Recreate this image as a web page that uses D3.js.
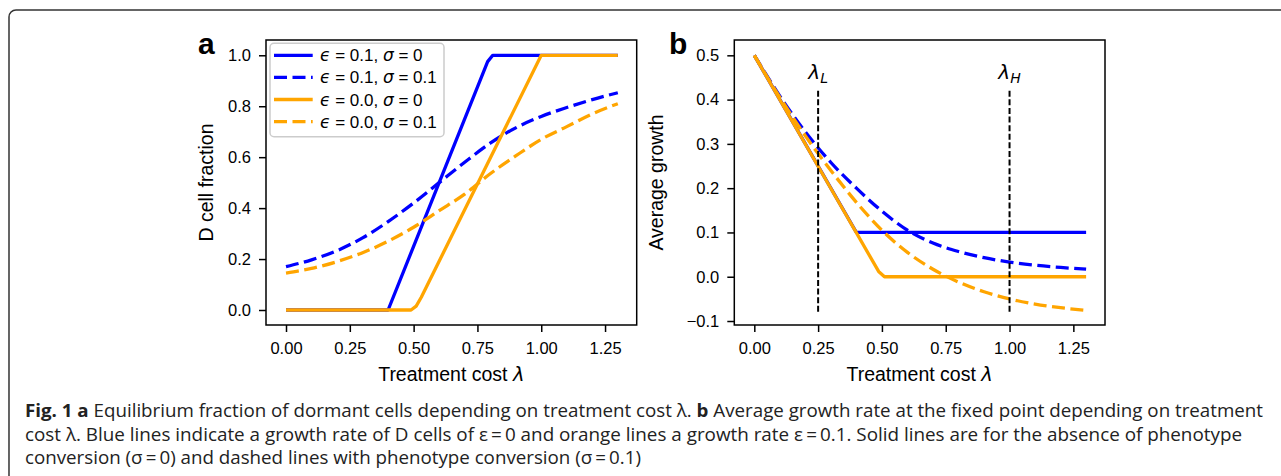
<!DOCTYPE html>
<html>
<head>
<meta charset="utf-8">
<script src="https://cdn.jsdelivr.net/npm/d3@7"></script>
<style>
  body { margin: 0; background: #fff; }
</style>
</head>
<body>
<script>
const WIDTH = 1281
const HEIGHT = 476

const BLUE = '#0000ff'
const ORANGE = '#ffa500'

// x values shared by the smooth (dashed) curves
const LAMBDAS = [0, 0.1, 0.2, 0.3, 0.4, 0.5, 0.6, 0.7, 0.8, 0.9, 1.0, 1.1, 1.2, 1.3]

// panel a : D cell fraction
const A_BLUE_SOLID_X = [0, 0.4, 0.79, 0.81, 1.3]
const A_BLUE_SOLID_Y = [0, 0, 0.975, 1, 1]
const A_BLUE_DASHED = [0.17, 0.197, 0.233, 0.283, 0.347, 0.42, 0.5, 0.58, 0.655, 0.715, 0.76, 0.795, 0.826, 0.853]
const A_ORANGE_SOLID_X = [0, 0.49, 0.51, 0.53, 1.0, 1.3]
const A_ORANGE_SOLID_Y = [0, 0, 0.015, 0.05, 1, 1]
const A_ORANGE_DASHED = [0.145, 0.163, 0.19, 0.225, 0.27, 0.325, 0.39, 0.455, 0.535, 0.605, 0.67, 0.72, 0.77, 0.81]

// panel b : average growth
const B_BLUE_SOLID_X = [0, 0.4, 1.3]
const B_BLUE_SOLID_Y = [0.5, 0.1, 0.1]
const B_BLUE_DASHED = [0.5, 0.408, 0.327, 0.258, 0.2, 0.148, 0.105, 0.076, 0.057, 0.043, 0.033, 0.026, 0.021, 0.017]
const B_ORANGE_SOLID_X = [0, 0.487, 0.51, 1.3]
const B_ORANGE_SOLID_Y = [0.5, 0.012, 0, 0]
const B_ORANGE_DASHED = [0.5, 0.405, 0.318, 0.24, 0.168, 0.105, 0.055, 0.017, -0.012, -0.034, -0.05, -0.062, -0.07, -0.076]

const X_TICKS = [0, 0.25, 0.5, 0.75, 1.0, 1.25]
const A_Y_TICKS = [0, 0.2, 0.4, 0.6, 0.8, 1.0]
const B_Y_TICKS = [-0.1, 0, 0.1, 0.2, 0.3, 0.4, 0.5]

const VLINES = [{ x: 0.25, sub: 'L' }, { x: 1.0, sub: 'H' }]

const LEGEND = [
  { eps: '0.1', sig: '0', color: BLUE, dash: null },
  { eps: '0.1', sig: '0.1', color: BLUE, dash: '13,5.5' },
  { eps: '0.0', sig: '0', color: ORANGE, dash: null },
  { eps: '0.0', sig: '0.1', color: ORANGE, dash: '13,5.5' },
]

const CAPTION = [
  [['b', 'Fig. 1 a'], ['n', ' Equilibrium fraction of dormant cells depending on treatment cost λ. '], ['b', 'b'], ['n', ' Average growth rate at the fixed point depending on treatment']],
  [['n', 'cost λ. Blue lines indicate a growth rate of D cells of ε\u2009=\u20090 and orange lines a growth rate ε\u2009=\u20090.1. Solid lines are for the absence of phenotype']],
  [['n', 'conversion (σ\u2009=\u20090) and dashed lines with phenotype conversion (σ\u2009=\u20090.1)']],
]
const CAPTION_WIDTHS = [1238, 1217, 616]

const FONT = '"Liberation Sans", Arial, Helvetica, sans-serif'
const MATH = '"DejaVu Sans", sans-serif'
const LW = 3.3

const svg = d3.select('body')
  .append('svg')
  .attr('width', WIDTH)
  .attr('height', HEIGHT)
  .style('font-family', FONT)

// outer frame
svg.append('rect')
  .attr('x', 9)
  .attr('y', 10)
  .attr('width', 1320)
  .attr('height', 520)
  .attr('rx', 7)
  .attr('fill', 'none')
  .attr('stroke', '#333')
  .attr('stroke-width', 1.5)

const xA = d3.scaleLinear().domain([-0.0784, 1.374]).range([266, 636.7])
const yA = d3.scaleLinear().domain([-0.0589, 1.06]).range([325, 40])
const xB = d3.scaleLinear().domain([-0.0784, 1.374]).range([734.3, 1105])
const yB = d3.scaleLinear().domain([-0.109, 0.5346]).range([325, 40])

const pairs = (xs, ys) => xs.map((v, i) => [v, ys[i]])

function drawPanel(x, y, yTicks, yLabel, labelX, letter, letterX, series) {
  const g = svg.append('g')

  const line = d3.line().x(d => x(d[0])).y(d => y(d[1]))
  const smooth = d3.line().x(d => x(d[0])).y(d => y(d[1])).curve(d3.curveMonotoneX)

  series.forEach(s => {
    g.append('path')
      .attr('d', s.dash ? smooth(s.pts) : line(s.pts))
      .attr('fill', 'none')
      .attr('stroke', s.color)
      .attr('stroke-width', LW)
      .attr('stroke-dasharray', s.dash)
      .attr('stroke-linejoin', 'round')
  })

  // axes
  const xAxis = g.append('g')
    .attr('transform', `translate(0, ${y.range()[0]})`)
    .call(d3.axisBottom(x).tickValues(X_TICKS).tickFormat(d3.format('.2f')).tickSize(7).tickPadding(10))
  const yAxis = g.append('g')
    .attr('transform', `translate(${x.range()[0]}, 0)`)
    .call(d3.axisLeft(y).tickValues(yTicks).tickFormat(d3.format('.1f')).tickSize(7).tickPadding(8))

  ;[xAxis, yAxis].forEach(ax => {
    ax.select('.domain').remove()
    ax.selectAll('line').attr('stroke', '#000').attr('stroke-width', 1.5)
    ax.selectAll('text').attr('fill', '#000').style('font-size', '16.5px').style('font-family', FONT)
  })

  g.append('rect')
    .attr('x', x.range()[0])
    .attr('y', y.range()[1])
    .attr('width', x.range()[1] - x.range()[0])
    .attr('height', y.range()[0] - y.range()[1])
    .attr('fill', 'none')
    .attr('stroke', '#000')
    .attr('stroke-width', 1.5)

  // x label
  const xl = g.append('text')
    .attr('x', (x.range()[0] + x.range()[1]) / 2)
    .attr('y', 380.7)
    .attr('text-anchor', 'middle')
    .style('font-size', '19.5px')
  xl.append('tspan').text('Treatment cost ')
  xl.append('tspan').style('font-family', MATH).style('font-style', 'italic').text('λ')

  // y label
  g.append('text')
    .attr('transform', `translate(${labelX}, ${(y.range()[0] + y.range()[1]) / 2}) rotate(-90)`)
    .attr('text-anchor', 'middle')
    .style('font-size', '19.5px')
    .text(yLabel)

  // panel letter
  g.append('text')
    .attr('x', letterX)
    .attr('y', 54)
    .style('font-size', '30px')
    .style('font-weight', 'bold')
    .text(letter)

  return g
}

drawPanel(xA, yA, A_Y_TICKS, 'D cell fraction', 213, 'a', 198, [
  { pts: pairs(A_BLUE_SOLID_X, A_BLUE_SOLID_Y), color: BLUE },
  { pts: pairs(LAMBDAS, A_BLUE_DASHED), color: BLUE, dash: '13,5.5' },
  { pts: pairs(A_ORANGE_SOLID_X, A_ORANGE_SOLID_Y), color: ORANGE },
  { pts: pairs(LAMBDAS, A_ORANGE_DASHED), color: ORANGE, dash: '13,5.5' },
])

const gB = drawPanel(xB, yB, B_Y_TICKS, 'Average growth', 662.5, 'b', 669, [
  { pts: pairs(B_BLUE_SOLID_X, B_BLUE_SOLID_Y), color: BLUE },
  { pts: pairs(LAMBDAS, B_BLUE_DASHED), color: BLUE, dash: '13,5.5' },
  { pts: pairs(B_ORANGE_SOLID_X, B_ORANGE_SOLID_Y), color: ORANGE },
  { pts: pairs(LAMBDAS, B_ORANGE_DASHED), color: ORANGE, dash: '13,5.5' },
])

// lambda_L and lambda_H markers
gB.selectAll('line.vl')
  .data(VLINES)
  .enter()
  .append('line')
  .attr('class', 'vl')
  .attr('x1', d => xB(d.x))
  .attr('x2', d => xB(d.x))
  .attr('y1', yB(0.42))
  .attr('y2', yB(-0.081))
  .attr('stroke', '#000')
  .attr('stroke-width', 2)
  .attr('stroke-dasharray', '6,2.6')

const vt = gB.selectAll('text.vt')
  .data(VLINES)
  .enter()
  .append('text')
  .attr('class', 'vt')
  .attr('x', d => xB(d.x))
  .attr('y', 79)
  .attr('text-anchor', 'middle')
  .style('font-family', MATH)
vt.append('tspan').style('font-size', '20px').style('font-style', 'italic').text('λ')
vt.append('tspan').style('font-size', '14px').style('font-style', 'italic').attr('dy', 4).text(d => d.sub)

// legend
const legend = svg.append('g')
legend.append('rect')
  .attr('x', 270)
  .attr('y', 43.3)
  .attr('width', 174)
  .attr('height', 93.4)
  .attr('rx', 4)
  .attr('fill', 'rgba(255,255,255,0.8)')
  .attr('stroke', '#cccccc')
  .attr('stroke-width', 1.5)

const ROW = 22.1
legend.selectAll('line')
  .data(LEGEND)
  .enter()
  .append('line')
  .attr('x1', 274)
  .attr('x2', 312.7)
  .attr('y1', (d, i) => 55.3 + i * ROW)
  .attr('y2', (d, i) => 55.3 + i * ROW)
  .attr('stroke', d => d.color)
  .attr('stroke-width', LW)
  .attr('stroke-dasharray', d => d.dash)

const lt = legend.selectAll('text')
  .data(LEGEND)
  .enter()
  .append('text')
  .attr('x', 320)
  .attr('y', (d, i) => 55.3 + i * ROW + 6)
  .style('font-size', '17px')
lt.append('tspan').style('font-family', MATH).style('font-style', 'italic').text('ϵ')
lt.append('tspan').text(d => ` = ${d.eps}, `)
lt.append('tspan').style('font-family', MATH).style('font-style', 'italic').text('σ')
lt.append('tspan').text(d => ` = ${d.sig}`)

// caption
const cap = svg.append('g')
  .style('font-family', '"Open Sans", sans-serif')
  .style('font-size', '18.5px')
  .attr('fill', '#222')

CAPTION.forEach((parts, i) => {
  const t = cap.append('text')
    .attr('x', 25)
    .attr('y', 417 + i * 23.5)
  parts.forEach(([w, s]) => {
    t.append('tspan').style('font-weight', w === 'b' ? 'bold' : 'normal').text(s)
  })
  t.attr('textLength', CAPTION_WIDTHS[i]).attr('lengthAdjust', 'spacingAndGlyphs')
})
</script>
</body>
</html>
